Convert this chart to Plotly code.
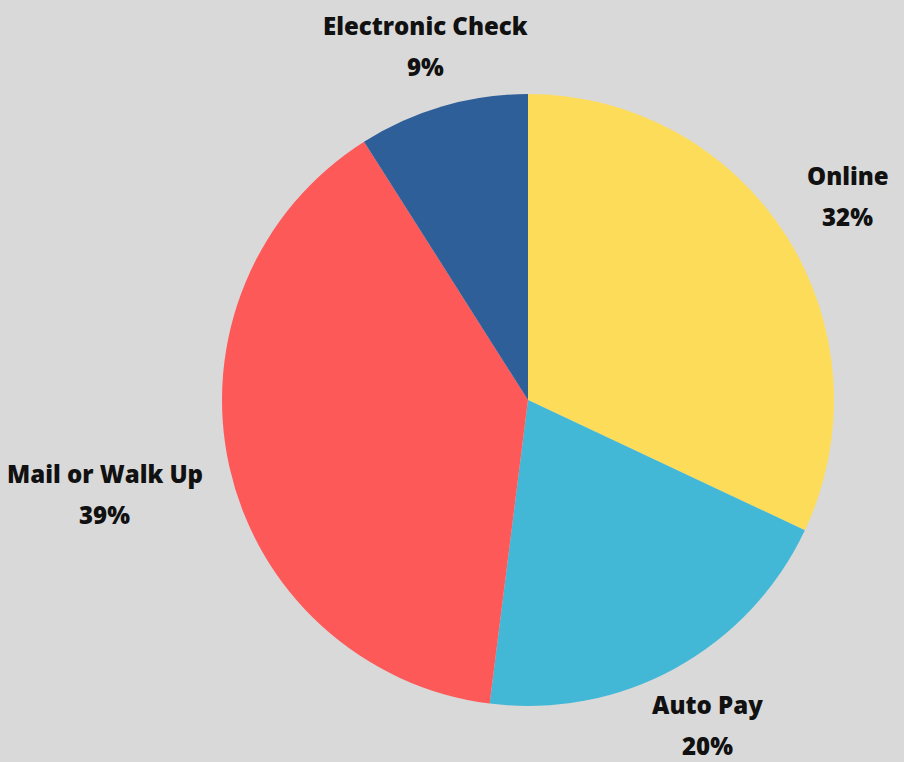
import math
import plotly.graph_objects as go

categories = ["Online", "Auto Pay", "Mail or Walk Up", "Electronic Check"]
values = [32, 20, 39, 9]
colors = ["#FDDC5A", "#42B8D6", "#FE5959", "#2E5F98"]

W, H = 904, 762
cx, cy, r = 528, 400, 306

fig = go.Figure(go.Pie(
    labels=categories,
    values=values,
    sort=False,
    direction="clockwise",
    rotation=0,
    marker=dict(colors=colors, line=dict(width=0)),
    textinfo="none",
    showlegend=False,
    domain=dict(x=[(cx - r) / W, (cx + r) / W], y=[1 - (cy + r) / H, 1 - (cy - r) / H]),
    hoverinfo="label+percent",
))

# outside labels placed along each slice's mid-angle ray
font = dict(family="Open Sans", size=24, color="#111111", weight=800)
total = sum(values)
cum = 0
R0 = r + 26
for lab, v in zip(categories, values):
    mid = (cum + v / 2) / total * 2 * math.pi
    cum += v
    dx, dy = math.sin(mid), -math.cos(mid)
    hw = len(lab) * 6.6
    hh = 35
    t = min(hw / max(abs(dx), 1e-6), hh / max(abs(dy), 1e-6))
    px = cx + dx * (R0 + t)
    py = cy + dy * (R0 + t)
    pct = round(v / total * 100)
    for txt, off in ((lab, -21), (f"{pct}%", 20)):
        fig.add_annotation(
            x=px / W, y=1 - (py + off) / H, xref="paper", yref="paper",
            text=txt, showarrow=False, xanchor="center", yanchor="middle",
            font=font,
        )

fig.update_layout(
    width=W, height=H,
    margin=dict(l=0, r=0, t=0, b=0),
    paper_bgcolor="#D9D9D9",
    plot_bgcolor="#D9D9D9",
)

fig.write_html("out.html", config={"displayModeBar": False},
               post_script="document.body.style.margin='0';")
